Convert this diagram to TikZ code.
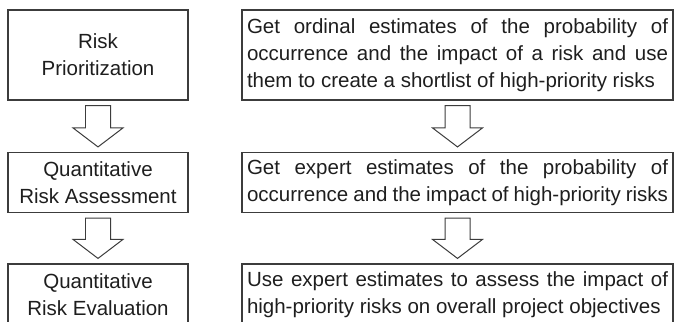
\documentclass[tikz,border=0pt]{standalone}
\usepackage{fontspec}
\setmainfont{Liberation Sans}
\usetikzlibrary{calc}
\definecolor{framegray}{HTML}{3C3C3C}
\definecolor{textdark}{HTML}{1E1E1E}
\newcommand{\steptext}{\fontsize{20.5bp}{27bp}\selectfont\color{textdark}}
\tikzset{
  stagebox/.style={draw=framegray,line width=1.2pt,align=center,text=textdark,font=\steptext,minimum width=180bp,inner sep=0pt},
  actionbox/.style={draw=framegray,line width=1.2pt,align=justify,text=textdark,font=\steptext,minimum width=431bp,text width=421bp,inner xsep=5bp,inner ysep=0pt},
  hollowarrow/.style={draw=framegray,line width=1pt,fill=white,
    to path={let \p1=(\tikztostart),\p2=(\tikztotarget) in
      (\x1-12.5bp,\y1-5bp) -- (\x1+12.5bp,\y1-5bp) -- (\x1+12.5bp,\y2+24bp) -- (\x1+25bp,\y2+24bp)
      -- (\x1,\y2+5bp) -- (\x1-25bp,\y2+24bp) -- (\x1-12.5bp,\y2+24bp) -- cycle}}
}

\begin{document}
\begin{tikzpicture}[x=1bp,y=-1bp]
  \useasboundingbox (0,0) rectangle (675,321);

  % Stages on the left.
  \node[stagebox,minimum height=90bp] (prioritization) at (98,55) {Risk\\Prioritization};
  \node[stagebox,minimum height=60bp] (assessment) at (98,182.5) {Quantitative\\Risk Assessment};
  \node[stagebox,minimum height=62bp] (evaluation) at (98,295) {Quantitative\\Risk Evaluation};

  % What each stage does.
  \node[actionbox,minimum height=90bp] (ordinal) at (457.5,55) {Get ordinal estimates of the probability of\linebreak occurrence and the impact of a risk and use\linebreak them to create a shortlist of high-priority risks\parfillskip=0pt};
  \node[actionbox,minimum height=60bp] (expert) at (457.5,182.5) {Get expert estimates of the probability of\linebreak occurrence and the impact of high-priority risks\parfillskip=0pt};
  \node[actionbox,minimum height=62bp] (impact) at (457.5,295) {Use expert estimates to assess the impact of\linebreak high-priority risks on overall project objectives\parfillskip=0pt};

  % Hollow arrows between the rows.
  \draw[hollowarrow] (prioritization.south) to (assessment.north);
  \draw[hollowarrow] (assessment.south) to (evaluation.north);
  \draw[hollowarrow] (ordinal.south) to (expert.north);
  \draw[hollowarrow] (expert.south) to (impact.north);
\end{tikzpicture}
\end{document}
